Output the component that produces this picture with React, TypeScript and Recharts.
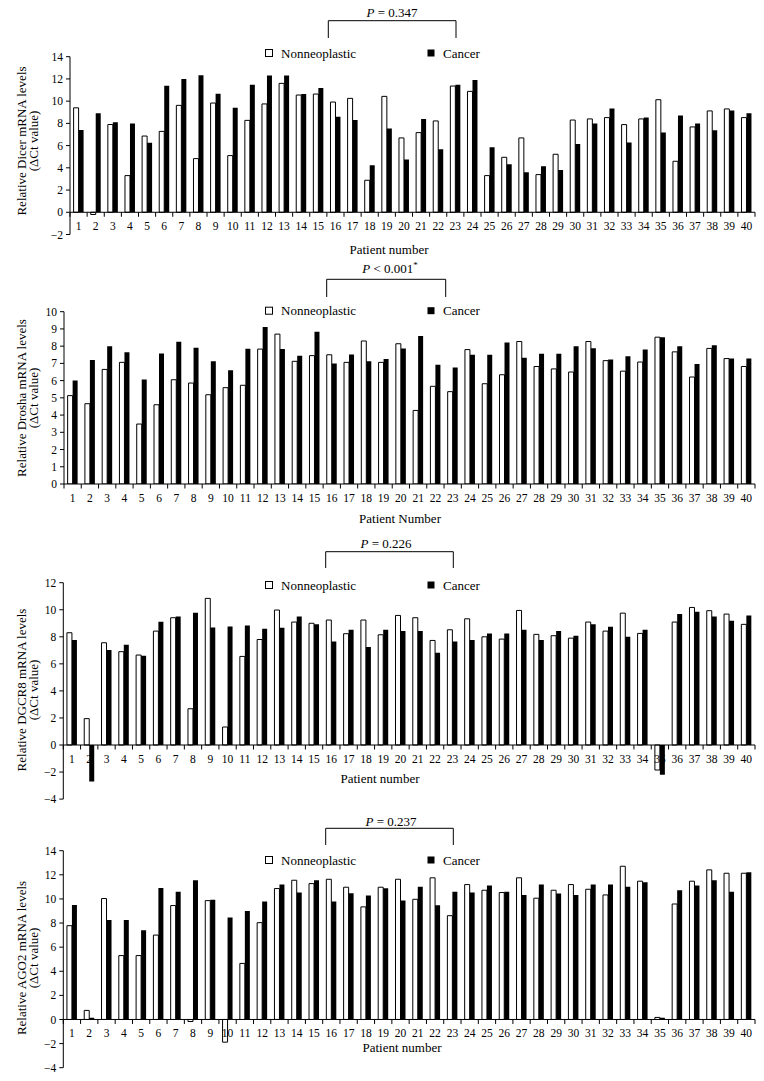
import React from 'react';
import { BarChart, Bar, XAxis, YAxis, ReferenceLine } from 'recharts';

const FONT = "'Liberation Serif', 'Times New Roman', serif";

const patients = [
  '1', '2', '3', '4', '5', '6', '7', '8', '9', '10',
  '11', '12', '13', '14', '15', '16', '17', '18', '19', '20',
  '21', '22', '23', '24', '25', '26', '27', '28', '29', '30',
  '31', '32', '33', '34', '35', '36', '37', '38', '39', '40',
];

// Dicer
const dicerNon = [9.4, -0.2, 7.9, 3.3, 6.86, 7.28, 9.62, 4.83, 9.83, 5.1, 8.27, 9.75, 11.6, 10.55, 10.64, 9.92, 10.25, 2.88, 10.43, 6.69,
  7.17, 8.22, 11.36, 10.88, 3.3, 4.95, 6.69, 3.39, 5.22, 8.3, 8.4, 8.52, 7.89, 8.4, 10.13, 4.59, 7.68, 9.12, 9.3, 8.52];
const dicerCancer = [7.4, 8.9, 8.09, 8.0, 6.26, 11.39, 11.99, 12.32, 10.67, 9.41, 11.48, 12.3, 12.3, 10.64, 11.18, 8.6, 8.3, 4.23, 7.53, 4.74,
  8.4, 5.67, 11.48, 11.9, 5.85, 4.32, 3.6, 4.14, 3.81, 6.15, 8.0, 9.33, 6.27, 8.52, 7.17, 8.7, 7.98, 7.38, 9.15, 8.9];
const dicerTicks = [-2, 0, 2, 4, 6, 8, 10, 12, 14];

// Drosha
const droshaNon = [5.13, 4.66, 6.65, 7.06, 3.48, 4.6, 6.05, 5.86, 5.18, 5.59, 5.73, 7.83, 8.7, 7.12, 7.45, 7.5, 7.06, 8.3, 7.06, 8.14,
  4.27, 5.67, 5.36, 7.8, 5.82, 6.34, 8.27, 6.82, 6.68, 6.5, 8.27, 7.16, 6.55, 7.08, 8.52, 7.67, 6.21, 7.87, 7.28, 6.82];
const droshaCancer = [6.0, 7.2, 7.99, 7.64, 6.07, 7.58, 8.26, 7.91, 7.12, 6.6, 7.85, 9.11, 7.83, 7.45, 8.84, 7.0, 7.52, 7.12, 7.25, 7.86,
  8.59, 6.92, 6.76, 7.5, 7.5, 8.21, 7.33, 7.56, 7.56, 8.0, 7.88, 7.22, 7.42, 7.8, 8.52, 8.0, 6.96, 8.06, 7.28, 7.28];
const droshaTicks = [0, 1, 2, 3, 4, 5, 6, 7, 8, 9, 10];

// DGCR8
const dgcr8Non = [8.3, 1.95, 7.56, 6.9, 6.65, 8.42, 9.41, 2.68, 10.84, 1.33, 6.55, 7.8, 9.98, 9.09, 9.0, 9.24, 8.23, 9.24, 8.15, 9.58,
  9.41, 7.73, 8.52, 9.33, 8.0, 7.83, 9.95, 8.18, 8.08, 7.9, 9.09, 8.42, 9.75, 8.25, -1.85, 9.09, 10.17, 9.93, 9.68, 8.92];
const dgcr8Cancer = [7.76, -2.7, 7.02, 7.41, 6.6, 9.11, 9.5, 9.78, 8.69, 8.77, 8.84, 8.6, 8.67, 9.5, 8.92, 7.66, 8.52, 7.24, 8.52, 8.42,
  8.42, 6.82, 7.66, 7.76, 8.25, 8.25, 8.52, 7.76, 8.42, 8.08, 8.92, 8.74, 8.0, 8.52, -2.2, 9.68, 9.85, 9.5, 9.19, 9.58];
const dgcr8Ticks = [-4, -2, 0, 2, 4, 6, 8, 10, 12];

// AGO2
const ago2Non = [7.78, 0.75, 10.03, 5.3, 5.3, 7.0, 9.45, -0.17, 9.86, -1.88, 4.65, 8.03, 10.86, 11.55, 11.27, 11.63, 10.97, 9.34, 10.97, 11.63,
  9.97, 11.75, 8.61, 11.19, 10.72, 10.53, 11.75, 10.06, 10.72, 11.19, 10.8, 10.33, 12.71, 11.47, 0.17, 9.58, 11.47, 12.41, 12.13, 12.13];
const ago2Cancer = [9.5, 0.14, 8.25, 8.25, 7.4, 10.9, 10.6, 11.55, 9.94, 8.45, 9.0, 9.78, 11.19, 10.53, 11.55, 9.78, 10.47, 10.28, 10.89, 9.86,
  11.0, 9.47, 10.6, 10.53, 11.11, 10.6, 10.33, 11.19, 10.44, 10.33, 11.19, 11.19, 11.0, 11.39, 0.14, 10.72, 11.11, 11.55, 10.6, 12.22];
const ago2Ticks = [-4, -2, 0, 2, 4, 6, 8, 10, 12, 14];

const fmt = (v: number) => (v < 0 ? `\u2212${-v}` : `${v}`);

type PanelProps = {
  top: number;
  height: number;
  plotTop: number;
  plotBottom: number;
  plotLeft: number;
  plotRight: number;
  ticks: number[];
  non: number[];
  cancer: number[];
};

function Panel({ top, height, plotTop, plotBottom, plotLeft, plotRight, ticks, non, cancer }: PanelProps) {
  const data = patients.map((p, i) => ({ patient: p, non: non[i], cancer: cancer[i] }));
  const yMin = ticks[0];
  const yMax = ticks[ticks.length - 1];
  const mTop = plotTop - top;
  const plotH = plotBottom - plotTop;
  // pixel row of value 0 inside this chart (x axis sits on zero, not at the bottom)
  const zeroY = mTop + (plotH * yMax) / (yMax - yMin);
  const step = (plotRight - plotLeft) / patients.length;

  const renderTick = (props: any) => {
    const { x, payload } = props;
    const last = payload.index === patients.length - 1;
    return (
      <g>
        <line x1={x - step / 2} y1={zeroY} x2={x - step / 2} y2={zeroY + 4.5} stroke="#000" />
        {last && <line x1={x + step / 2} y1={zeroY} x2={x + step / 2} y2={zeroY + 4.5} stroke="#000" />}
        <text x={x} y={zeroY + 17.5} textAnchor="middle" fontSize={11.5} fontFamily={FONT} fill="#000">
          {payload.value}
        </text>
      </g>
    );
  };

  return (
    <div style={{ position: 'absolute', left: 0, top, width: 764, height }}>
      <BarChart
        width={764}
        height={height}
        data={data}
        barCategoryGap="21%"
        barGap={0}
        margin={{ top: mTop, bottom: top + height - plotBottom - 1, left: plotLeft - 30, right: 764 - plotRight }}
      >
        <XAxis dataKey="patient" height={1} axisLine={false} tickLine={false} interval={0} tick={renderTick} />
        <YAxis
          domain={[yMin, yMax]}
          ticks={ticks}
          interval={0}
          width={30}
          tickSize={4}
          tickMargin={3}
          allowDataOverflow
          axisLine={{ stroke: '#000' }}
          tickLine={{ stroke: '#000' }}
          tick={{ fill: '#000', fontSize: 11.5, fontFamily: FONT }}
          tickFormatter={fmt}
        />
        <ReferenceLine y={0} stroke="#000" />
        <Bar dataKey="non" name="Nonneoplastic" fill="#fff" stroke="#000" strokeWidth={1} isAnimationActive={false} />
        <Bar dataKey="cancer" name="Cancer" fill="#000" isAnimationActive={false} />
      </BarChart>
    </div>
  );
}

type NoteProps = {
  titleGene: string;
  titleY: number;
  pX: number;
  pY: number;
  pText: React.ReactNode;
  bracket: [number, number, number, number];
  legendY: number;
  xLabel: string;
  xLabelX: number;
  xLabelY: number;
};

function Notes({ titleGene, titleY, pX, pY, pText, bracket, legendY, xLabel, xLabelX, xLabelY }: NoteProps) {
  const [x1, x2, yTop, yBot] = bracket;
  return (
    <g fontFamily={FONT} fill="#000">
      <text transform={`translate(26,${titleY}) rotate(-90)`} textAnchor="middle" fontSize={13}>
        {`Relative ${titleGene} mRNA levels`}
      </text>
      <text transform={`translate(38,${titleY}) rotate(-90)`} textAnchor="middle" fontSize={13}>
        (ΔCt value)
      </text>
      <text x={pX} y={pY + 4.5} textAnchor="middle" fontSize={13}>
        <tspan fontStyle="italic">P</tspan>
        {pText}
      </text>
      <path d={`M${x1},${yBot} V${yTop} H${x2} V${yBot}`} fill="none" stroke="#000" strokeWidth={1} />
      <rect x={265.5} y={legendY - 3.5} width={7} height={7} fill="#fff" stroke="#000" />
      <text x={281} y={legendY + 4.5} fontSize={13}>Nonneoplastic</text>
      <rect x={427.5} y={legendY - 3.5} width={7} height={7} fill="#000" />
      <text x={443} y={legendY + 4.5} fontSize={13}>Cancer</text>
      <text x={xLabelX} y={xLabelY + 4.5} textAnchor="middle" fontSize={13}>{xLabel}</text>
    </g>
  );
}

export default function App() {
  return (
    <div style={{ position: 'absolute', left: 0, top: 0, width: 764, height: 1081, background: '#fff', overflow: 'hidden' }}>
      <Panel top={40} height={215} plotTop={56.7} plotBottom={234.5} plotLeft={70} plotRight={755} ticks={dicerTicks} non={dicerNon} cancer={dicerCancer} />
      <Panel top={300} height={215} plotTop={311.7} plotBottom={484} plotLeft={64} plotRight={755} ticks={droshaTicks} non={droshaNon} cancer={droshaCancer} />
      <Panel top={570} height={240} plotTop={582.7} plotBottom={799.1} plotLeft={63.3} plotRight={755} ticks={dgcr8Ticks} non={dgcr8Non} cancer={dgcr8Cancer} />
      <Panel top={840} height={240} plotTop={850.7} plotBottom={1067.7} plotLeft={63.3} plotRight={755} ticks={ago2Ticks} non={ago2Non} cancer={ago2Cancer} />
      <svg width={764} height={1081} style={{ position: 'absolute', left: 0, top: 0, pointerEvents: 'none' }}>
        <Notes titleGene="Dicer" titleY={141} pX={392} pY={12} pText=" = 0.347" bracket={[328.3, 456, 20.7, 38]}
          legendY={53} xLabel="Patient number" xLabelX={389} xLabelY={249} />
        <Notes titleGene="Drosha" titleY={398} pX={390} pY={268}
          pText={<>{' < 0.001'}<tspan dy={-5} fontSize={9}>*</tspan></>}
          bracket={[326.7, 445.7, 279.3, 297]} legendY={310.7} xLabel="Patient Number" xLabelX={400} xLabelY={518} />
        <Notes titleGene="DGCR8" titleY={690} pX={386} pY={543} pText=" = 0.226" bracket={[325.7, 453.3, 551.7, 568]}
          legendY={585} xLabel="Patient number" xLabelX={380} xLabelY={778} />
        <Notes titleGene="AGO2" titleY={958} pX={391} pY={821.7} pText=" = 0.237" bracket={[325.7, 453.3, 828.3, 845]}
          legendY={860} xLabel="Patient number" xLabelX={402} xLabelY={1047} />
      </svg>
    </div>
  );
}
